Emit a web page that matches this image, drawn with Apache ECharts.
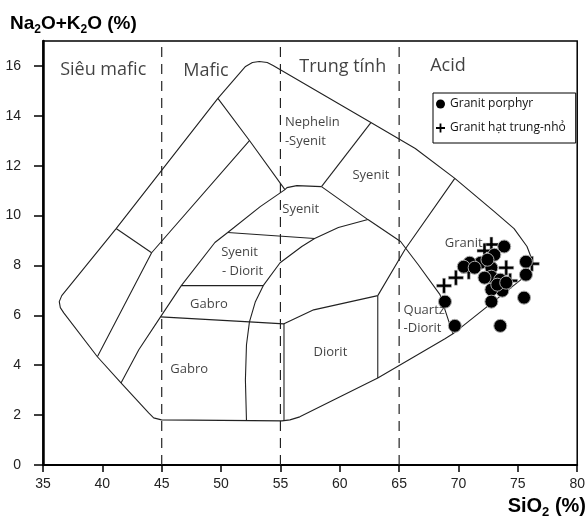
<!DOCTYPE html>
<html><head><meta charset="utf-8">
<script src="https://cdn.jsdelivr.net/npm/echarts@6/dist/echarts.min.js"></script>
<style>html,body{margin:0;padding:0;background:#fff}#c{width:588px;height:517px}</style>
</head><body><div id="c"></div>
<script>
// ---- axis ticks ----
const xTicks = [35,40,45,50,55,60,65,70,75,80];
const yTicks = [0,2,4,6,8,10,12,14,16];
const dividerSiO2 = [45,55,65];

// ---- TAS field boundaries (SiO2, Na2O+K2O) ----
const outerBoundary = [[36.75,6.10],[36.46,6.31],[36.37,6.55],[36.58,6.79],[41.16,9.48],[49.73,14.70],[52.06,15.98],[52.64,16.14],[53.22,16.18],[53.89,16.14],[54.38,16.02],[62.62,13.73],[66.36,12.69],[69.69,11.49],[73.02,10.16],[74.68,9.48],[75.77,8.76],[76.10,8.35],[76.02,8.03],[75.68,7.71],[75.27,7.43],[69.53,5.26],[68.86,5.06],[63.20,3.49],[56.63,1.93],[55.80,1.81],[55.13,1.77],[44.98,1.81],[44.32,1.89],[43.90,2.09],[41.57,3.29],[39.58,4.34],[36.75,6.10]];
const ultramaficCross = [[41.16,9.48],[44.15,8.51]];
const ultramaficInner = [[39.58,4.34],[44.15,8.51],[52.39,13.01]];
const nephelineLower = [[49.73,14.70],[52.39,13.01],[55.38,11.04]];
const gabbroCurve = [[41.57,3.29],[43.07,4.62],[44.90,5.94],[46.65,7.19],[49.48,8.92],[50.56,9.32],[53.30,10.36],[55.38,11.04]];
const syeniteCap = [[55.38,11.04],[55.55,11.12],[56.38,11.20],[58.46,11.16]];
const nephelineRight = [[62.62,13.73],[58.46,11.16]];
const syeniteLower = [[58.46,11.16],[62.37,9.84],[65.12,8.96],[66.61,8.03],[68.44,6.83],[69.53,5.26]];
const graniteLeft = [[69.69,11.49],[65.53,8.67],[63.20,6.79]];
const dioriteTop = [[44.90,5.94],[52.39,5.74],[55.30,5.66],[57.80,6.22],[63.20,6.79]];
const gabbroSyDiorite = [[46.65,7.19],[53.55,7.19]];
const syeniteDiorite = [[50.56,9.32],[57.88,9.08]];
const intermediateCurve = [[62.37,9.84],[59.88,9.52],[57.88,9.08],[56.80,8.76],[54.97,8.11],[53.55,7.19],[52.89,6.55],[52.39,5.74],[52.14,4.82],[52.05,3.41],[52.14,1.77]];
const dioriteLeft = [[55.30,5.66],[55.30,1.77]];
const dioriteRight = [[63.20,6.79],[63.20,3.49]];

// ---- labels ----
const headerLabels = [['Siêu mafic',40.07,15.86],['Mafic',48.73,15.82],['Trung tính',60.25,15.98],['Acid',69.11,16.02]];
const fieldLabels = [['Syenit',62.62,11.61],['Syenit',56.71,10.24],['Syenit',51.56,8.51],['- Diorit',51.81,7.75],['Gabro',48.98,6.43],['Gabro',47.31,3.82],['Diorit',59.21,4.50],['Granit',70.44,8.88]];
const leftLabels = [['Nephelin',55.38,13.73],['-Syenit',55.38,12.97],['Quartz',65.37,6.22],['-Diorit',65.37,5.50]];

// ---- samples ----
const porphyrSiO2 = [73.85,73.02,71.86,70.94,70.44,72.77,72.77,73.52,73.69,72.77,72.77,75.68,75.68,75.52,68.86,69.69,73.52,71.36,72.19,73.27,72.44,74.02];
const porphyrAlk  = [8.76,8.43,8.11,8.11,7.95,7.91,7.55,7.43,6.99,7.03,6.55,8.15,7.63,6.71,6.55,5.58,5.58,7.91,7.51,7.23,8.23,7.31];
const fineSiO2 = [68.78,69.78,70.86,74.02,74.35,72.77,76.18,72.19];
const fineAlk  = [7.19,7.51,7.75,7.91,7.39,8.84,8.07,8.59];

const plusPath = 'path://M6,0H9V6H15V9H9V15H6V9H0V6H6Z';
const lineFont = 'Open Sans';

const polylines = [outerBoundary, ultramaficCross, ultramaficInner, nephelineLower, gabbroCurve, syeniteCap, nephelineRight, syeniteLower, graniteLeft, dioriteTop, gabbroSyDiorite, syeniteDiorite, intermediateCurve, dioriteLeft, dioriteRight];

const series = [];
dividerSiO2.forEach(x => series.push({
  type:'line', data:[[x,0],[x,17]], symbol:'none', silent:true, z:1,
  lineStyle:{color:'#222', width:1.2, type:[10,7]}
}));
polylines.forEach(p => series.push({
  type:'line', data:p, symbol:'none', silent:true, z:2,
  lineStyle:{color:'#222', width:1.1}
}));
series.push({
  type:'scatter', symbolSize:0, silent:true, z:5,
  data: headerLabels.map(l => ({name:l[0], value:[l[1],l[2]]})),
  label:{show:true, position:'inside', formatter:'{b}', fontFamily:lineFont, fontSize:18, color:'#111'}
});
series.push({
  type:'scatter', symbolSize:0, silent:true, z:5,
  data: fieldLabels.map(l => ({name:l[0], value:[l[1],l[2]]})),
  label:{show:true, position:'inside', formatter:'{b}', fontFamily:lineFont, fontSize:13, color:'#111'}
});
series.push({
  type:'scatter', symbolSize:0, silent:true, z:5,
  data: leftLabels.map(l => ({name:l[0], value:[l[1],l[2]]})),
  label:{show:true, position:'inside', align:'left', formatter:'{b}', fontFamily:lineFont, fontSize:13, color:'#111'}
});
series.push({
  name:'Granit hạt trung-nhỏ', type:'scatter', symbol:plusPath, symbolSize:15, z:3,
  data: fineSiO2.map((x,i)=>[x, fineAlk[i]]),
  itemStyle:{color:'#000', borderColor:'#ccc', borderWidth:0.5, opacity:1}
});
series.push({
  name:'Granit porphyr', type:'scatter', symbol:'circle', symbolSize:13, z:4,
  data: porphyrSiO2.map((x,i)=>[x, porphyrAlk[i]]),
  itemStyle:{color:'#000', borderColor:'#aaa', borderWidth:1, opacity:1}
});

const chart = echarts.init(document.getElementById('c'), null, {renderer:'canvas'});
chart.setOption({
  animation:false,
  backgroundColor:'#fff',
  grid:{left:43, right:4, top:41, bottom:52, show:true, borderColor:'#000', borderWidth:1.5, backgroundColor:'transparent'},
  xAxis:{
    type:'value', min:35, max:80, interval:5,
    axisLine:{onZero:false, lineStyle:{color:'#000', width:2}},
    axisTick:{show:true, length:7, lineStyle:{color:'#000', width:1.5}, customValues:xTicks},
    axisLabel:{margin:12, fontFamily:'Liberation Sans', fontSize:14, color:'#222', customValues:xTicks},
    splitLine:{show:false}
  },
  yAxis:{
    type:'value', min:0, max:17, interval:1,
    axisLine:{onZero:false, lineStyle:{color:'#000', width:2.5}},
    axisTick:{show:true, length:9, lineStyle:{color:'#000', width:1.5}, customValues:yTicks},
    axisLabel:{margin:22, fontFamily:'Liberation Sans', fontSize:14, color:'#222', customValues:yTicks},
    splitLine:{show:false}
  },
  legend:{
    orient:'vertical', left:433, top:93,
    backgroundColor:'#fff', borderColor:'#000', borderWidth:1,
    padding:[5,10,9,3], itemGap:12, itemWidth:9, itemHeight:12,
    itemStyle:{color:'#000', borderWidth:0, opacity:1},
    textStyle:{fontFamily:lineFont, fontSize:12, color:'#111'},
    data:[{name:'Granit porphyr', icon:'circle'},{name:'Granit hạt trung-nhỏ', icon:plusPath}]
  },
  graphic:[
    {type:'text', left:10, top:14, z:10,
      style:{text:'{a|Na}{s|2}{a|O+K}{s|2}{a|O (%)}',
        rich:{a:{fontFamily:'Liberation Sans', fontWeight:'bold', fontSize:19, color:'#111'},
              s:{fontFamily:'Liberation Sans', fontWeight:'bold', fontSize:12, color:'#111', padding:[12,0,0,0]}}}},
    {type:'text', right:2, top:496, z:10,
      style:{text:'{a|SiO}{s|2}{a| (%)}',
        rich:{a:{fontFamily:'Liberation Sans', fontWeight:'bold', fontSize:20, color:'#111'},
              s:{fontFamily:'Liberation Sans', fontWeight:'bold', fontSize:13, color:'#111', padding:[12,0,0,0]}}}}
  ],
  series:series
});
</script></body></html>
